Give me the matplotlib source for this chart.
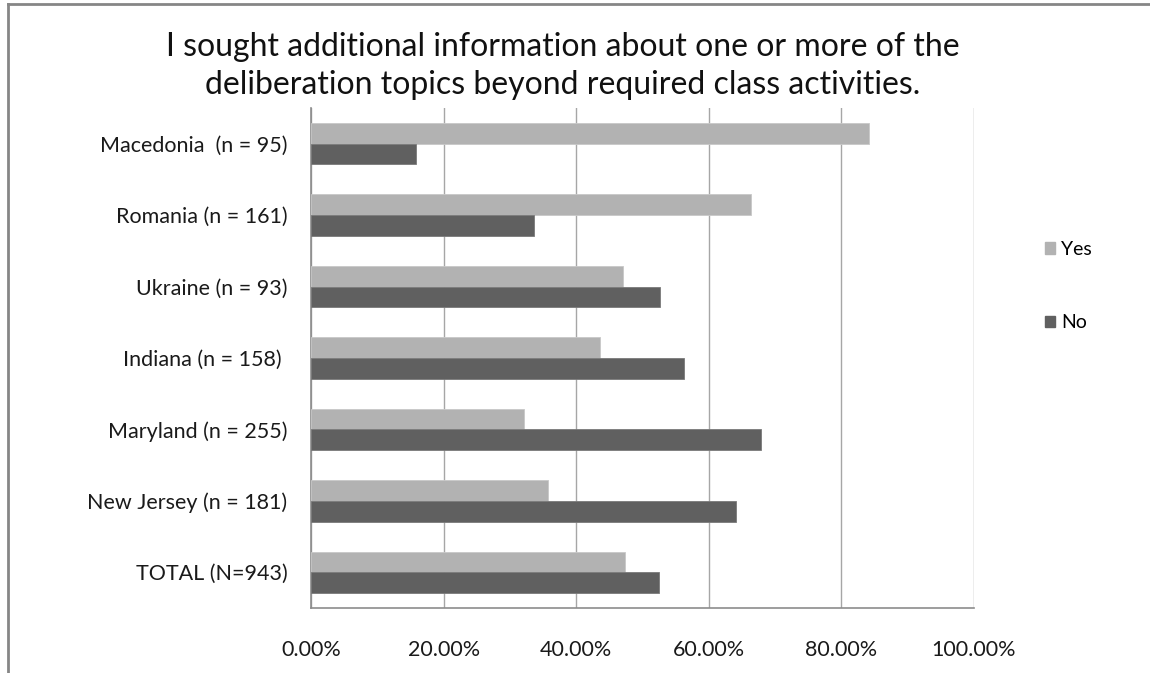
import matplotlib.pyplot as plt
import numpy as np
from matplotlib.lines import Line2D
from matplotlib.patches import Patch

plt.rcParams['font.family'] = ['Lato', 'DejaVu Sans']

groups = ["Macedonia  (n = 95)", "Romania (n = 161)", "Ukraine (n = 93)",
          "Indiana (n = 158) ", "Maryland (n = 255)", "New Jersey (n = 181)",
          "TOTAL (N=943)"]
yes = [84.2, 66.4, 47.1, 43.6, 32.1, 35.8, 47.3]
no = [15.8, 33.6, 52.6, 56.2, 67.9, 64.1, 52.5]
xticks = [0, 20, 40, 60, 80, 100]
title = ("I sought additional information about one or more of the\n"
         "deliberation topics beyond required class activities.")

yes_color = "#b2b2b2"
no_color = "#606060"
grid_color = "#a6a6a6"

fig = plt.figure(figsize=(11.5, 6.73), dpi=100)
ax = fig.add_axes([311 / 1150, 1 - 608 / 673, (974 - 311) / 1150, (608 - 108) / 673])

pos = np.arange(len(groups))[::-1]
h = 0.29
ax.barh(pos + h / 2, yes, height=h, color=yes_color, edgecolor="#c8c8c8", linewidth=0.6, zorder=3)
ax.barh(pos - h / 2, no, height=h, color=no_color, edgecolor="#7a7a7a", linewidth=0.6, zorder=3)

ax.set_xlim(0, 100)
ax.set_ylim(-0.5, len(groups) - 0.5)
ax.set_xticks(xticks)
ax.set_xticklabels([f"{v:.2f}%" for v in xticks], fontsize=15.5, color="#1a1a1a")
ax.set_yticks(pos)
ax.set_yticklabels(groups, fontsize=15.5, color="#1a1a1a")
ax.tick_params(axis="both", length=0)
ax.tick_params(axis="x", pad=23)
ax.tick_params(axis="y", pad=17)
ax.xaxis.grid(True, color=grid_color, linewidth=1.0, zorder=0)
for side in ["top", "right"]:
    ax.spines[side].set_visible(False)
for side in ["left", "bottom"]:
    ax.spines[side].set_color("#8c8c8c")
    ax.spines[side].set_linewidth(1.2)

fig.text(563 / 1150, 1 - 66 / 673, title, ha="center", va="center",
         fontsize=23, linespacing=1.32, color="#111111")

handles = [Patch(facecolor=yes_color, edgecolor=yes_color),
           Patch(facecolor=no_color, edgecolor=no_color)]
fig.legend(handles, ["Yes", "No"], loc="center left",
           bbox_to_anchor=(1027 / 1150, 1 - 286 / 673), frameon=False,
           fontsize=14, handlelength=0.52, handleheight=0.52, handletextpad=0.35,
           labelspacing=2.9)

# outer chart frame (top and left edges)
fig.add_artist(Line2D([8 / 1150, 1], [1 - 4 / 673, 1 - 4 / 673], color="#868686", linewidth=2))
fig.add_artist(Line2D([8 / 1150, 8 / 1150], [0, 1 - 4 / 673], color="#868686", linewidth=2))

fig.savefig("out.png", dpi=100)
